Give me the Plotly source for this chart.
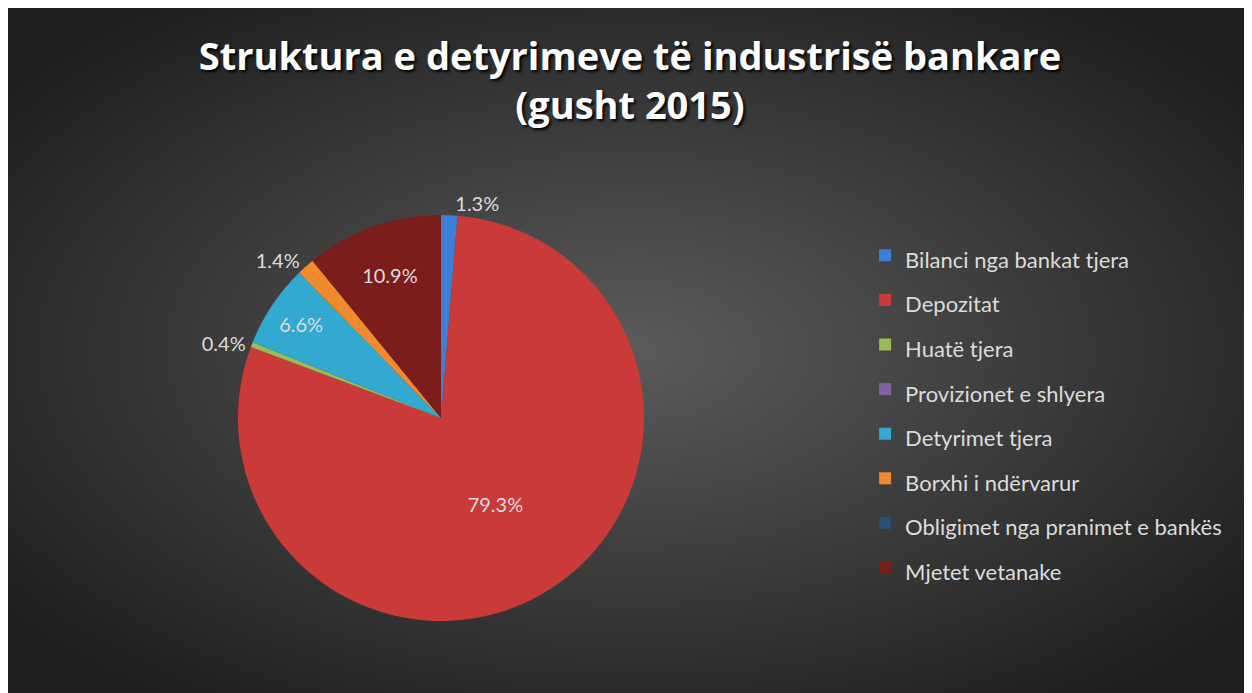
import base64
import plotly.graph_objects as go

# ---- data ----
labels = [
    "Bilanci nga bankat tjera",
    "Depozitat",
    "Huatë tjera",
    "Provizionet e shlyera",
    "Detyrimet tjera",
    "Borxhi i ndërvarur",
    "Obligimet nga pranimet e bankës",
    "Mjetet vetanake",
]
values = [1.3, 79.3, 0.4, 0.0, 6.6, 1.4, 0.0, 10.9]
colors = ["#3b7fd6", "#c93a38", "#9bbb59", "#8064a2",
          "#33a9d2", "#f08a2c", "#2c4d75", "#7a1d1b"]
text_pos = ["outside", "inside", "outside", "inside",
            "inside", "outside", "inside", "inside"]

title_text = "Struktura e detyrimeve të industrisë bankare<br>(gusht 2015)"

W, H = 1244, 685

slice_text = [f"{v:.1f}%" if v > 0 else "" for v in values]
legend_labels = [f"<span style='font-size:22px'>{l}</span>" for l in labels]

# pie placement (figure pixels)
cx, cy, r = 433, 410, 203

fig = go.Figure()
fig.add_trace(go.Pie(
    labels=legend_labels,
    values=values,
    text=slice_text,
    textinfo="text",
    textposition=text_pos,
    insidetextorientation="horizontal",
    sort=False,
    direction="clockwise",
    rotation=0,
    marker=dict(colors=colors, line=dict(width=0)),
    textfont=dict(family="Lato", size=20, color="#dcdcdc"),
    outsidetextfont=dict(family="Lato", size=20, color="#dcdcdc"),
    insidetextfont=dict(family="Lato", size=20, color="#dcdcdc"),
    domain=dict(x=[(cx - r) / W, (cx + r) / W],
                y=[1 - (cy + r) / H, 1 - (cy - r) / H]),
    hoverinfo="label+percent",
    showlegend=True,
))

svg = (
    f"<svg xmlns='http://www.w3.org/2000/svg' width='{W}' height='{H}'>"
    "<defs><radialGradient id='g' cx='50%' cy='50%' r='62%'>"
    "<stop offset='0' stop-color='#5b5b5b'/>"
    "<stop offset='1' stop-color='#1f1f1f'/>"
    "</radialGradient></defs>"
    "<rect width='100%' height='100%' fill='url(#g)'/></svg>"
)
bg_src = "data:image/svg+xml;base64," + base64.b64encode(svg.encode()).decode()

fig.update_layout(
    width=W,
    height=H,
    margin=dict(l=0, r=0, t=0, b=0),
    paper_bgcolor="#262626",
    plot_bgcolor="rgba(0,0,0,0)",
    images=[dict(source=bg_src, xref="paper", yref="paper", x=0, y=1,
                 sizex=1, sizey=1, sizing="stretch", xanchor="left",
                 yanchor="top", layer="below", opacity=1)],
    title=dict(
        text=title_text,
        x=0.5, xanchor="center",
        y=1 - 62 / H, yanchor="middle",
        font=dict(family="Open Sans", size=38, color="#ffffff", weight="bold",
                  shadow="2px 2px 3px #000000"),
    ),
    legend=dict(
        x=0.689, xanchor="left",
        y=1 - 220 / H, yanchor="top",
        font=dict(family="Lato", size=32, color="#dcdcdc"),
        bgcolor="rgba(0,0,0,0)",
        itemclick=False,
    ),
    showlegend=True,
)

fig.write_html("out.html")
